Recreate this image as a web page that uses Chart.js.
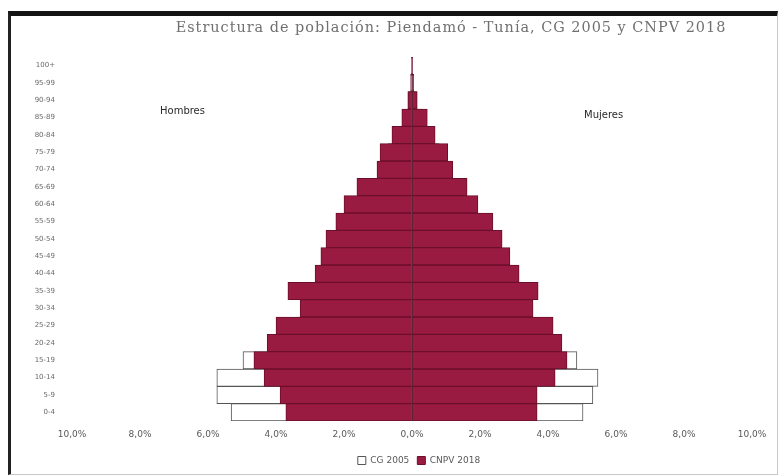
<!DOCTYPE html>
<html>
<head>
<meta charset="utf-8">
<script src="https://cdn.jsdelivr.net/npm/chart.js@4"></script>
<style>
  html, body { margin: 0; padding: 0; background: #ffffff; }
  #wrap { position: relative; width: 784px; height: 476px; overflow: hidden; }
  #frame { position: absolute; left: 8px; top: 11px; width: 766px; height: 458px;
           border-top: 5px solid #141414; border-left: 3px solid #222;
           border-right: 1px solid #c8c8c8; border-bottom: 1px solid #c8c8c8; }
  canvas { position: absolute; left: 0; top: 0; }
</style>
</head>
<body>
<div id="wrap">
  <div id="frame"></div>
  <canvas id="c" width="784" height="476"></canvas>
</div>
<script>
// Age groups (bottom to top)
const ageGroups = ['0-4','5-9','10-14','15-19','20-24','25-29','30-34','35-39','40-44','45-49',
                   '50-54','55-59','60-64','65-69','70-74','75-79','80-84','85-89','90-94','95-99','100+'];
// Percent of total population
const men2005   = [5.32, 5.74, 5.74, 4.97, 3.90, 3.40, 3.00, 3.10, 2.70, 2.30, 2.00, 1.80, 1.60, 1.30, 0.90, 0.70, 0.40, 0.20, 0.12, 0.03, 0.01];
const women2005 = [5.03, 5.32, 5.47, 4.85, 4.00, 3.60, 3.30, 3.30, 2.90, 2.50, 2.20, 1.90, 1.60, 1.30, 1.00, 0.80, 0.50, 0.30, 0.15, 0.04, 0.01];
const men2018   = [3.71, 3.88, 4.35, 4.65, 4.26, 4.00, 3.29, 3.65, 2.85, 2.68, 2.53, 2.24, 2.00, 1.62, 1.03, 0.94, 0.59, 0.30, 0.12, 0.04, 0.01];
const women2018 = [3.68, 3.68, 4.21, 4.56, 4.41, 4.15, 3.56, 3.71, 3.15, 2.88, 2.65, 2.38, 1.94, 1.62, 1.20, 1.05, 0.68, 0.45, 0.15, 0.05, 0.02];
const seriesNames = ['CG 2005', 'CNPV 2018'];
const xTickLabels = ['10,0%','8,0%','6,0%','4,0%','2,0%','0,0%','2,0%','4,0%','6,0%','8,0%','10,0%'];
const titleText = 'Estructura de población: Piendamó - Tunía, CG 2005 y CNPV 2018';
const sideLabels = ['Hombres', 'Mujeres'];

const maroon = '#9a1b42';
const maroonEdge = '#6b0f2b';

const textPlugin = {
  id: 'textPlugin',
  afterLayout(chart) {
    // shift the legend so it is centred like the reference
    const lg = chart.legend;
    if (lg) { lg.left = 86; }
  },
  afterDraw(chart) {
    const ctx = chart.ctx;
    ctx.save();
    ctx.fillStyle = '#707070';
    ctx.font = '14px "DejaVu Serif"';
    if ('letterSpacing' in ctx) ctx.letterSpacing = '1px';
    const w = ctx.measureText(titleText).width;
    const size = Math.min(16, 14 * 553 / w);
    ctx.font = size.toFixed(2) + 'px "DejaVu Serif"';
    ctx.textAlign = 'center';
    ctx.textBaseline = 'middle';
    ctx.fillText(titleText, 451, 28);
    if ('letterSpacing' in ctx) ctx.letterSpacing = '0px';
    ctx.fillStyle = '#2a2a2a';
    ctx.font = '10px "DejaVu Sans"';
    ctx.textAlign = 'left';
    ctx.fillText(sideLabels[0], 160, 111);
    ctx.fillText(sideLabels[1], 584, 115);
    ctx.restore();
  }
};

new Chart(document.getElementById('c'), {
  type: 'bar',
  data: {
    labels: ageGroups,
    datasets: [
      { label: seriesNames[0], data: men2005.map(v => -v), order: 1, grouped: false,
        backgroundColor: '#ffffff', borderColor: '#555', borderWidth: 1, borderSkipped: false,
        barPercentage: 1, categoryPercentage: 1 },
      { label: seriesNames[0], data: women2005, order: 1, grouped: false,
        backgroundColor: '#ffffff', borderColor: '#555', borderWidth: 1, borderSkipped: false,
        barPercentage: 1, categoryPercentage: 1 },
      { label: seriesNames[1], data: men2018.map(v => -v), order: 0, grouped: false,
        backgroundColor: maroon, borderColor: maroonEdge, borderWidth: 1, borderSkipped: false,
        barPercentage: 1, categoryPercentage: 1 },
      { label: seriesNames[1], data: women2018, order: 0, grouped: false,
        backgroundColor: maroon, borderColor: maroonEdge, borderWidth: 1, borderSkipped: false,
        barPercentage: 1, categoryPercentage: 1 }
    ]
  },
  options: {
    indexAxis: 'y',
    responsive: false,
    animation: false,
    layout: { padding: { left: 0, right: 32, top: 57, bottom: 1 } },
    scales: {
      x: {
        min: -10, max: 10,
        ticks: { stepSize: 2, padding: 8, color: '#595959', font: { size: 9, family: 'DejaVu Sans' },
                 callback: (v, i) => xTickLabels[i] },
        grid: { drawTicks: false, color: c => (c.tick && c.tick.value === 0) ? '#3a3a3a' : 'rgba(0,0,0,0)' },
        border: { display: false },
        afterFit: s => { s.height = 27; }
      },
      y: {
        reverse: true,
        ticks: { padding: 17, color: '#6a6a6a', font: { size: 7, family: 'DejaVu Sans' }, autoSkip: false },
        grid: { display: false, drawTicks: false },
        border: { display: false },
        afterFit: s => { s.width = 72; }
      }
    },
    plugins: {
      title: { display: false },
      tooltip: { enabled: false },
      legend: {
        position: 'bottom',
        labels: {
          boxWidth: 8, boxHeight: 8, padding: 8, color: '#595959',
          font: { size: 9, family: 'DejaVu Sans' },
          filter: item => item.datasetIndex === 0 || item.datasetIndex === 2,
          sort: (a, b) => a.datasetIndex - b.datasetIndex
        }
      }
    }
  },
  plugins: [textPlugin]
});
</script>
</body>
</html>
